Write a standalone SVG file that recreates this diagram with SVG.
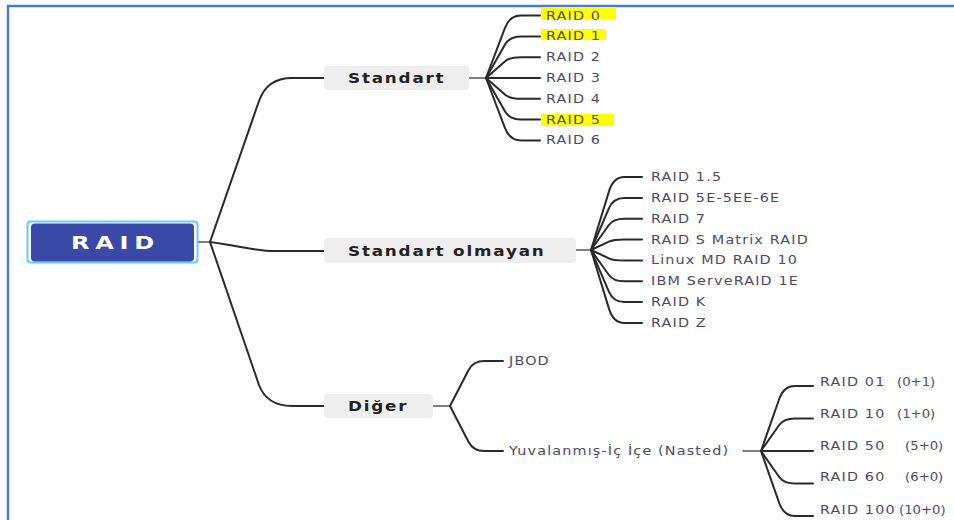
<svg xmlns="http://www.w3.org/2000/svg" width="954" height="520" viewBox="0 0 954 520">
<style>
.frame{fill:none;stroke:#4A7BD0;stroke-width:2.5}
.topic{fill:#EEEEEE}
.tt{font-family:"DejaVu Sans",sans-serif;font-weight:bold;font-size:14px;letter-spacing:1.5px;fill:#222222}
.leaf{font-family:"DejaVu Sans",sans-serif;font-size:12.5px;letter-spacing:1px;fill:#4F4A68}
.par{font-size:11.5px;letter-spacing:0}
.hl{fill:#FFFF00}
.conn path{fill:none;stroke:#2A2A2A;stroke-width:2;stroke-linecap:round;stroke-linejoin:round}
.conn path.stub{stroke:#555555;stroke-width:1.6}
</style>
<rect width="954" height="520" fill="#FFFFFF"/>
<path class="frame" d="M8 522 L8 6 L956 6"/>

<g id="connectors" class="conn">
  <path class="stub" d="M194 242 L210 242"/>
  <path d="M210 242 L259 101 Q267 78 292 78 L324 78"/>
  <path d="M210 242 C240 246 255 251 275 251 L324 251"/>
  <path d="M210 242 L259 385 Q267 406 292 406 L324 406"/>

  <path class="stub" d="M469 78 L486 78"/>
  <path d="M486 78 L504.9 28.1 Q509.6 15.6 521.1 15.6 L540 15.6"/>
  <path d="M486 78 L504.9 44.7 Q509.6 36.4 521.1 36.4 L540 36.4"/>
  <path d="M486 78 L504.9 61.4 Q509.6 57.2 521.1 57.2 L540 57.2"/>
  <path d="M486 78 L540 78"/>
  <path d="M486 78 L504.9 94.6 Q509.6 98.8 521.1 98.8 L540 98.8"/>
  <path d="M486 78 L504.9 111.3 Q509.6 119.6 521.1 119.6 L540 119.6"/>
  <path d="M486 78 L504.9 127.9 Q509.6 140.4 521.1 140.4 L540 140.4"/>

  <path class="stub" d="M576 250 L591 250"/>
  <path d="M591 250 L608.9 191.6 Q613.3 177 624.2 177 L642 177"/>
  <path d="M591 250 L608.9 208.3 Q613.3 197.9 624.2 197.9 L642 197.9"/>
  <path d="M591 250 L608.9 225 Q613.3 218.8 624.2 218.8 L642 218.8"/>
  <path d="M591 250 L608.9 241.7 Q613.3 239.6 624.2 239.6 L642 239.6"/>
  <path d="M591 250 L608.9 258.3 Q613.3 260.4 624.2 260.4 L642 260.4"/>
  <path d="M591 250 L608.9 275 Q613.3 281.3 624.2 281.3 L642 281.3"/>
  <path d="M591 250 L608.9 291.7 Q613.3 302.1 624.2 302.1 L642 302.1"/>
  <path d="M591 250 L608.9 308.4 Q613.3 323 624.2 323 L642 323"/>

  <path class="stub" d="M433 406 L450 406"/>
  <path d="M450 406 L468.6 370 Q473.2 361 484.5 361 L503 361"/>
  <path d="M450 406 L468.6 442 Q473.2 451 484.5 451 L503 451"/>

  <path class="stub" d="M743 451 L761 451"/>
  <path d="M761 451 L779.2 399 Q783.8 386 794.8 386 L813 386"/>
  <path d="M761 451 L779.2 425 Q783.8 418.5 794.8 418.5 L813 418.5"/>
  <path d="M761 451 L813 451"/>
  <path d="M761 451 L779.2 477 Q783.8 483.5 794.8 483.5 L813 483.5"/>
  <path d="M761 451 L779.2 503 Q783.8 516 794.8 516 L813 516"/>
</g>

<g id="node-raid">
  <rect x="27.5" y="221.5" width="170" height="41" rx="3" fill="#FFFFFF" stroke="#66CCFF" stroke-width="2"/>
  <rect x="31" y="223.5" width="163" height="38" rx="4" fill="#3A48A8"/>
  <text transform="translate(71 248.5) scale(1.3 1)" font-family="DejaVu Sans, sans-serif" font-weight="bold" font-size="18.5" letter-spacing="4.4" fill="#FFFFFF">RAID</text>
</g>

<g id="node-standart">
  <rect class="topic" x="324" y="66" width="145" height="24" rx="4"/>
  <text class="tt" transform="translate(348 82.5) scale(1.2 1)">Standart</text>
</g>
<g id="node-standart-olmayan">
  <rect class="topic" x="324" y="238" width="252" height="25" rx="4"/>
  <text class="tt" transform="translate(348 255.5) scale(1.2 1)">Standart olmayan</text>
</g>
<g id="node-diger">
  <rect class="topic" x="324" y="394" width="109" height="24" rx="4"/>
  <text class="tt" transform="translate(348 411) scale(1.2 1)">Diğer</text>
</g>

<g id="leaf-raid0"><rect class="hl" x="541" y="7" width="75" height="12"/><text class="leaf" transform="translate(546 19.6) scale(1.15 1)">RAID 0</text></g>
<g id="leaf-raid1"><rect class="hl" x="541" y="29" width="65" height="11"/><text class="leaf" transform="translate(546 40.4) scale(1.15 1)">RAID 1</text></g>
<g id="leaf-raid2"><text class="leaf" transform="translate(546 61.2) scale(1.15 1)">RAID 2</text></g>
<g id="leaf-raid3"><text class="leaf" transform="translate(546 82) scale(1.15 1)">RAID 3</text></g>
<g id="leaf-raid4"><text class="leaf" transform="translate(546 102.8) scale(1.15 1)">RAID 4</text></g>
<g id="leaf-raid5"><rect class="hl" x="541" y="114" width="73" height="12"/><text class="leaf" transform="translate(546 123.6) scale(1.15 1)">RAID 5</text></g>
<g id="leaf-raid6"><text class="leaf" transform="translate(546 144.4) scale(1.15 1)">RAID 6</text></g>

<g id="leaf-raid15"><text class="leaf" transform="translate(651 181) scale(1.15 1)">RAID 1.5</text></g>
<g id="leaf-raid5e"><text class="leaf" transform="translate(651 201.9) scale(1.15 1)">RAID 5E-5EE-6E</text></g>
<g id="leaf-raid7"><text class="leaf" transform="translate(651 222.8) scale(1.15 1)">RAID 7</text></g>
<g id="leaf-raidsmatrix"><text class="leaf" transform="translate(651 243.6) scale(1.15 1)">RAID S Matrix RAID</text></g>
<g id="leaf-linuxmd"><text class="leaf" transform="translate(651 264.4) scale(1.15 1)">Linux MD RAID 10</text></g>
<g id="leaf-ibm"><text class="leaf" transform="translate(651 285.3) scale(1.15 1)">IBM ServeRAID 1E</text></g>
<g id="leaf-raidk"><text class="leaf" transform="translate(651 306.1) scale(1.15 1)">RAID K</text></g>
<g id="leaf-raidz"><text class="leaf" transform="translate(651 327) scale(1.15 1)">RAID Z</text></g>

<g id="leaf-jbod"><text class="leaf" transform="translate(509 364.5) scale(1.15 1)">JBOD</text></g>
<g id="leaf-nested"><text class="leaf" transform="translate(509 455) scale(1.15 1)">Yuvalanmış-İç İçe (Nasted)</text></g>

<g id="leaf-raid01"><text class="leaf" transform="translate(820 385.5) scale(1.15 1)">RAID 01<tspan class="par" x="67">(0+1)</tspan></text></g>
<g id="leaf-raid10"><text class="leaf" transform="translate(820 417.5) scale(1.15 1)">RAID 10<tspan class="par" x="67">(1+0)</tspan></text></g>
<g id="leaf-raid50"><text class="leaf" transform="translate(820 449.5) scale(1.15 1)">RAID 50<tspan class="par" x="74">(5+0)</tspan></text></g>
<g id="leaf-raid60"><text class="leaf" transform="translate(820 481) scale(1.15 1)">RAID 60<tspan class="par" x="74">(6+0)</tspan></text></g>
<g id="leaf-raid100"><text class="leaf" transform="translate(820 513.5) scale(1.15 1)">RAID 100<tspan class="par" x="68.7">(10+0)</tspan></text></g>
</svg>
